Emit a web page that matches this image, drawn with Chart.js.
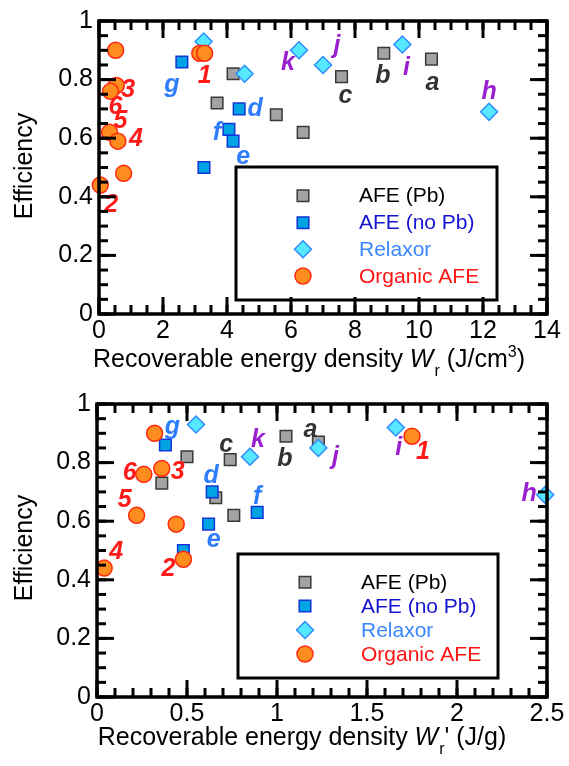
<!DOCTYPE html>
<html>
<head>
<meta charset="utf-8">
<script src="https://cdn.jsdelivr.net/npm/chart.js@4.4.0/dist/chart.umd.min.js"></script>
<style>
  body { margin: 0; background: #fff; }
  #wrap { position: relative; width: 569px; height: 766px; }
  canvas { display: block; }
  #frames { position: absolute; left: 0; top: 0; pointer-events: none; }
</style>
</head>
<body>
<div id="wrap">
<canvas id="topChart" width="569" height="383"></canvas>
<canvas id="bottomChart" width="569" height="383"></canvas>
<svg id="frames" width="569" height="766" xmlns="http://www.w3.org/2000/svg"></svg>
</div>
<script>
const seriesNames = ["AFE (Pb)", "AFE (no Pb)", "Relaxor", "Organic AFE"];

// top panel: volumetric energy density W_r (J/cm3)
const volPbX = [10.39, 8.90, 7.58, 4.19, 3.69, 5.54, 6.38];
const volPbY = [0.87, 0.89, 0.81, 0.82, 0.72, 0.68, 0.62];
const volPbTags = ["a", "b", "c", "", "", "", ""];

const volNoPbX = [2.59, 4.38, 4.06, 4.19, 3.28];
const volNoPbY = [0.86, 0.70, 0.63, 0.59, 0.50];
const volNoPbTags = ["g", "d", "f", "e", ""];

const volRelaxorX = [3.27, 4.55, 6.25, 7.00, 9.48, 12.19];
const volRelaxorY = [0.93, 0.82, 0.90, 0.85, 0.92, 0.69];
const volRelaxorTags = ["", "", "k", "j", "i", "h"];

const volOrganicX = [0.52, 0.54, 0.36, 0.33, 0.59, 0.77, 0.04, 3.15, 3.30];
const volOrganicY = [0.90, 0.78, 0.76, 0.62, 0.59, 0.48, 0.44, 0.89, 0.89];
const volOrganicTags = ["", "3", "6", "5", "4", "", "2", "", "1"];

// bottom panel: gravimetric energy density W_r' (J/g)
const gravPbX = [1.23, 1.05, 0.74, 0.50, 0.36, 0.66, 0.76];
const gravPbY = [0.87, 0.89, 0.81, 0.82, 0.73, 0.68, 0.62];
const gravPbTags = ["a", "b", "c", "", "", "", ""];

const gravNoPbX = [0.38, 0.64, 0.89, 0.62, 0.48];
const gravNoPbY = [0.86, 0.70, 0.63, 0.59, 0.50];
const gravNoPbTags = ["g", "d", "f", "e", ""];

const gravRelaxorX = [0.55, 0.85, 1.23, 1.66, 2.49];
const gravRelaxorY = [0.93, 0.82, 0.85, 0.92, 0.69];
const gravRelaxorTags = ["", "k", "j", "i", "h"];

const gravOrganicX = [0.32, 0.36, 0.26, 0.22, 0.44, 0.48, 0.04, 1.75];
const gravOrganicY = [0.90, 0.78, 0.76, 0.62, 0.59, 0.47, 0.44, 0.89];
const gravOrganicTags = ["", "3", "6", "5", "", "2", "4", "1"];

// tick positions
const yTicks = [0, 0.2, 0.4, 0.6, 0.8, 1];
const volXTicks = [0, 2, 4, 6, 8, 10, 12, 14];
const gravXTicks = [0, 0.5, 1, 1.5, 2, 2.5];

// where each tag sits relative to its marker (px)
const volTagShift = {
  pb: [[1, 24], [-1, 23], [4, 19]],
  noPb: [[-10, 23], [16, 0], [-12, 4], [10, 16]],
  relaxor: [null, null, [-11, 13], [14, -19], [4, 24], [0, -20]],
  organic: [null, [12, 5], [5, 16], [11, -11], [18, -2], null, [11, 20], null, [0, 23]]
};
const gravTagShift = {
  pb: [[-8, -12], [-1, 23], [-4, -15]],
  noPb: [[7, -18], [-1, -16], [0, -15], [5, 16]],
  relaxor: [null, [8, -17], [17, 9], [3, 21], [-16, -1]],
  organic: [null, [16, 4], [-14, -1], [-12, -15], null, [-15, 10], [12, -16], [11, 16]]
};

const FONT = "'Liberation Sans', Arial, Helvetica, sans-serif";

const looks = {
  pb: { style: "rect", radius: 8.2, fill: "#a3a3a3", line: "#3a3a3a", tag: "#333333", text: "#000000" },
  noPb: { style: "rect", radius: 8.2, fill: "#00a3e3", line: "#1236d8", tag: "#2f7dff", text: "#1414d0" },
  relaxor: { style: "rectRot", radius: 8.5, fill: "#55e8ff", line: "#2f8cff", tag: "#9a1fd0", text: "#3a86ff" },
  organic: { style: "circle", radius: 8, fill: "#ff8c1f", line: "#ff2a10", tag: "#ff1a1a", text: "#ff1414" }
};

function toPoints(xs, ys) {
  return xs.map((x, i) => ({ x: x, y: ys[i] }));
}

// minor tick positions between 0 and max
function minorSteps(max, step) {
  const out = [];
  const n = Math.round(max / step);
  for (let k = 0; k <= n; k++) out.push(+(k * step).toFixed(4));
  return out;
}

function dataset(name, key, xs, ys, tags, shifts, order) {
  const lk = looks[key];
  return {
    label: name,
    data: toPoints(xs, ys),
    tags: tags,
    shifts: shifts,
    tagColor: lk.tag,
    textColor: lk.text,
    order: order,
    clip: false,
    pointStyle: lk.style,
    pointRadius: lk.radius,
    pointBackgroundColor: lk.fill,
    pointBorderColor: lk.line,
    pointBorderWidth: 1.5,
    showLine: false
  };
}

function drawMarker(ctx, ds, x, y) {
  ctx.fillStyle = ds.pointBackgroundColor;
  ctx.strokeStyle = ds.pointBorderColor;
  ctx.lineWidth = ds.pointBorderWidth;
  Chart.helpers.drawPoint(ctx, { pointStyle: ds.pointStyle, radius: ds.pointRadius, rotation: 0, borderWidth: ds.pointBorderWidth }, x, y);
}

// boxed legend drawn over the markers
const boxLegend = {
  id: "boxLegend",
  afterDatasetsDraw(chart, args, o) {
    const ctx = chart.ctx;
    ctx.save();
    ctx.fillStyle = "#fff";
    ctx.fillRect(o.box[0], o.box[1], o.box[2] - o.box[0], o.box[3] - o.box[1]);
    ctx.strokeStyle = "#000";
    ctx.lineWidth = 3;
    ctx.strokeRect(o.box[0], o.box[1], o.box[2] - o.box[0], o.box[3] - o.box[1]);
    chart.data.datasets.forEach((ds, i) => {
      const y = o.rows[i];
      drawMarker(ctx, ds, o.markerX, y);
      ctx.fillStyle = ds.textColor;
      ctx.font = "21px " + FONT;
      ctx.textAlign = "left";
      ctx.textBaseline = "middle";
      ctx.fillText(ds.label, o.textX, y + 1);
    });
    ctx.restore();
  }
};

const pointTags = {
  id: "pointTags",
  afterDatasetsDraw(chart) {
    const ctx = chart.ctx;
    ctx.save();
    ctx.font = "italic bold 25px " + FONT;
    ctx.textAlign = "center";
    ctx.textBaseline = "middle";
    chart.data.datasets.forEach((ds, i) => {
      const meta = chart.getDatasetMeta(i);
      ds.tags.forEach((t, j) => {
        if (!t) return;
        const s = ds.shifts[j] || [0, 0];
        const el = meta.data[j];
        ctx.fillStyle = ds.tagColor;
        ctx.fillText(t, el.x + s[0], el.y + s[1]);
      });
    });
    ctx.restore();
  }
};

const axisTitles = {
  id: "axisTitles",
  afterDraw(chart, args, o) {
    const ctx = chart.ctx;
    ctx.save();
    ctx.fillStyle = "#000";
    ctx.textBaseline = "alphabetic";
    ctx.textAlign = "left";
    let total = 0;
    o.parts.forEach(p => { ctx.font = p.font; total += ctx.measureText(p.text).width + (p.gap || 0); });
    let x = o.cx - total / 2;
    o.parts.forEach(p => {
      ctx.font = p.font;
      ctx.fillText(p.text, x, o.base + (p.dy || 0));
      x += ctx.measureText(p.text).width + (p.gap || 0);
    });
    ctx.translate(o.yx, o.yy);
    ctx.rotate(-Math.PI / 2);
    ctx.font = "25px " + FONT;
    ctx.textAlign = "center";
    ctx.textBaseline = "middle";
    ctx.fillText("Efficiency", 0, 0);
    ctx.restore();
  }
};

function makeChart(id, sets, xMax, xTicks, pad, yWidth, legendOpts, titleOpts) {
  return new Chart(document.getElementById(id), {
    type: "scatter",
    data: { datasets: sets },
    options: {
      responsive: false,
      animation: false,
      devicePixelRatio: 1,
      layout: { padding: pad },
      plugins: {
        legend: { display: false },
        tooltip: { enabled: false },
        boxLegend: legendOpts,
        axisTitles: titleOpts
      },
      scales: {
        x: {
          type: "linear",
          min: 0,
          max: xMax,
          afterBuildTicks(s) { s.ticks = xTicks.map(v => ({ value: v })); },
          ticks: { color: "#000", font: { size: 25, family: FONT }, padding: 2, maxRotation: 0, autoSkip: false,
            callback: v => String(+v.toFixed(2)) },
          grid: { display: false, drawTicks: false },
          border: { display: false },
          afterFit(s) { s.height = 69; }
        },
        y: {
          type: "linear",
          min: 0,
          max: 1,
          afterBuildTicks(s) { s.ticks = yTicks.map(v => ({ value: v })); },
          ticks: { color: "#000", font: { size: 25, family: FONT }, padding: 6,
            callback: v => String(+v.toFixed(2)) },
          grid: { display: false, drawTicks: false },
          border: { display: false },
          afterFit(s) { s.width = yWidth; }
        }
      }
    },
    plugins: [pointTags, boxLegend, axisTitles]
  });
}

// frame box + inward ticks as an svg overlay, positioned from the chart's scales
const SVGNS = "http://www.w3.org/2000/svg";
const svg = document.getElementById("frames");

function svgLine(x1, y1, x2, y2, w) {
  const l = document.createElementNS(SVGNS, "line");
  l.setAttribute("x1", x1); l.setAttribute("y1", y1);
  l.setAttribute("x2", x2); l.setAttribute("y2", y2);
  l.setAttribute("stroke", "#000");
  l.setAttribute("stroke-width", w);
  svg.appendChild(l);
}

function addFrame(chart, dy, xMajor, xMinor) {
  const sx = chart.scales.x, sy = chart.scales.y;
  const L = sx.getPixelForValue(sx.min), R = sx.getPixelForValue(sx.max);
  const T = sy.getPixelForValue(1) + dy, B = sy.getPixelForValue(0) + dy;
  xMinor.forEach(v => {
    const px = sx.getPixelForValue(v);
    svgLine(px, B, px, B - 9, 3); svgLine(px, T, px, T + 9, 3);
  });
  xMajor.forEach(v => {
    const px = sx.getPixelForValue(v);
    svgLine(px, B, px, B - 17, 3); svgLine(px, T, px, T + 17, 3);
  });
  minorSteps(1, 0.05).forEach(v => {
    const py = sy.getPixelForValue(v) + dy;
    svgLine(L, py, L + 9, py, 3); svgLine(R, py, R - 9, py, 3);
  });
  yTicks.forEach(v => {
    const py = sy.getPixelForValue(v) + dy;
    svgLine(L, py, L + 17, py, 3); svgLine(R, py, R - 17, py, 3);
  });
  const r = document.createElementNS(SVGNS, "rect");
  r.setAttribute("x", L); r.setAttribute("y", T);
  r.setAttribute("width", R - L); r.setAttribute("height", B - T);
  r.setAttribute("fill", "none");
  r.setAttribute("stroke", "#000");
  r.setAttribute("stroke-width", 3.5);
  svg.appendChild(r);
}

const base = "25px " + FONT;
const ital = "italic 25px " + FONT;
const small = "16px " + FONT;

const topChart = makeChart("topChart", [
  dataset(seriesNames[0], "pb", volPbX, volPbY, volPbTags, volTagShift.pb, 3),
  dataset(seriesNames[1], "noPb", volNoPbX, volNoPbY, volNoPbTags, volTagShift.noPb, 2),
  dataset(seriesNames[2], "relaxor", volRelaxorX, volRelaxorY, volRelaxorTags, volTagShift.relaxor, 1),
  dataset(seriesNames[3], "organic", volOrganicX, volOrganicY, volOrganicTags, volTagShift.organic, 0)
], 14, volXTicks, { left: 0, right: 22, top: 15, bottom: 0 }, 99,
  { box: [236, 167, 497, 300], rows: [195.7, 222.7, 249.3, 276], markerX: 303, textX: 359 },
  { cx: 309, base: 367, yx: 25, yy: 166, parts: [
    { text: "Recoverable energy density ", font: base },
    { text: "W", font: ital, gap: 1 },
    { text: "r", font: small, dy: 9 },
    { text: " (J/cm", font: base },
    { text: "3", font: small, dy: -10 },
    { text: ")", font: base }
  ] });

const bottomChart = makeChart("bottomChart", [
  dataset(seriesNames[0], "pb", gravPbX, gravPbY, gravPbTags, gravTagShift.pb, 3),
  dataset(seriesNames[1], "noPb", gravNoPbX, gravNoPbY, gravNoPbTags, gravTagShift.noPb, 2),
  dataset(seriesNames[2], "relaxor", gravRelaxorX, gravRelaxorY, gravRelaxorTags, gravTagShift.relaxor, 1),
  dataset(seriesNames[3], "organic", gravOrganicX, gravOrganicY, gravOrganicTags, gravTagShift.organic, 0)
], 2.5, gravXTicks, { left: 0, right: 22, top: 14, bottom: 0 }, 97,
  { box: [238, 171, 498, 295], rows: [199.3, 223, 247, 271], markerX: 305, textX: 361 },
  { cx: 302, base: 362, yx: 25, yy: 165, parts: [
    { text: "Recoverable energy density ", font: base },
    { text: "W", font: ital, gap: 1 },
    { text: "r", font: small, dy: 9 },
    { text: "'", font: base },
    { text: " (J/g)", font: base }
  ] });

addFrame(topChart, 0, volXTicks, minorSteps(14, 0.5));
addFrame(bottomChart, 383, gravXTicks, minorSteps(2.5, 0.1));
</script>
</body>
</html>
